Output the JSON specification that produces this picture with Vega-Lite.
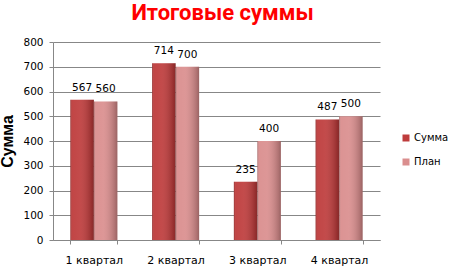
{
  "$schema": "https://vega.github.io/schema/vega-lite/v6.json",
  "width": 327,
  "height": 198,
  "autosize": {"type": "none"},
  "padding": {"left": 53, "top": 42, "right": 69, "bottom": 26},
  "background": "white",
  "config": {"view": {"stroke": null}},
  "title": {
    "text": "Итоговые суммы",
    "color": "#FF0000",
    "font": "Roboto",
    "fontSize": 22,
    "fontWeight": "bold",
    "anchor": "middle",
    "frame": "group",
    "baseline": "alphabetic",
    "offset": -5,
    "dx": 6
  },
  "data": {
    "values": [
      {"q": "1 квартал", "s": "Сумма", "v": 567},
      {"q": "1 квартал", "s": "План", "v": 560},
      {"q": "2 квартал", "s": "Сумма", "v": 714},
      {"q": "2 квартал", "s": "План", "v": 700},
      {"q": "3 квартал", "s": "Сумма", "v": 235},
      {"q": "3 квартал", "s": "План", "v": 400},
      {"q": "4 квартал", "s": "Сумма", "v": 487},
      {"q": "4 квартал", "s": "План", "v": 500}
    ]
  },
  "encoding": {
    "x": {
      "field": "q",
      "type": "nominal",
      "sort": null,
      "scale": {"paddingInner": 0.425, "paddingOuter": 0.2125},
      "axis": {
        "title": null,
        "labelAngle": 0,
        "tickBand": "extent",
        "domainColor": "#878787",
        "tickColor": "#878787",
        "tickSize": 4,
        "labelFont": "DejaVu Sans",
        "labelFontSize": 11,
        "labelColor": "black",
        "labelPadding": 10
      }
    },
    "xOffset": {
      "field": "s",
      "type": "nominal",
      "sort": ["Сумма", "План"],
      "scale": {"paddingInner": 0, "paddingOuter": 0}
    },
    "y": {
      "field": "v",
      "type": "quantitative",
      "scale": {"domain": [0, 800]},
      "axis": {
        "values": [0, 100, 200, 300, 400, 500, 600, 700, 800],
        "grid": true,
        "gridColor": "#878787",
        "domainColor": "#878787",
        "tickColor": "#878787",
        "tickSize": 4,
        "labelFont": "DejaVu Sans",
        "labelFontSize": 10.5,
        "labelColor": "black",
        "labelPadding": 6,
        "title": "Сумма",
        "titleFont": "Liberation Sans",
        "titleFontSize": 16,
        "titleFontWeight": "bold",
        "titleColor": "black",
        "titlePadding": 7
      }
    }
  },
  "layer": [
    {
      "mark": {"type": "bar"},
      "encoding": {
        "color": {
          "field": "s",
          "type": "nominal",
          "scale": {"domain": ["Сумма", "План"], "range": ["#BE3C3C", "#DA8E8E"]},
          "legend": {
            "orient": "none",
            "legendX": 348,
            "legendY": 91,
            "title": null,
            "symbolType": "square",
            "symbolSize": 49,
            "symbolStrokeWidth": 0,
            "labelFont": "DejaVu Sans",
            "labelFontSize": 10,
            "labelColor": "black",
            "rowPadding": 14,
            "labelOffset": 3
          }
        }
      }
    },
    {
      "mark": {
        "type": "bar",
        "fill": {
          "gradient": "linear",
          "x1": 0, "y1": 0, "x2": 1, "y2": 0,
          "stops": [
            {"offset": 0, "color": "rgba(0,0,0,0.25)"},
            {"offset": 0.08, "color": "rgba(255,255,255,0.05)"},
            {"offset": 0.4, "color": "rgba(255,255,255,0.08)"},
            {"offset": 0.9, "color": "rgba(0,0,0,0.2)"},
            {"offset": 1, "color": "rgba(0,0,0,0.3)"}
          ]
        }
      },
      "encoding": {}
    },
    {
      "mark": {
        "type": "text",
        "baseline": "alphabetic",
        "dy": -9,
        "font": "DejaVu Sans",
        "fontSize": 10.5,
        "color": "black"
      },
      "encoding": {"text": {"field": "v", "type": "quantitative"}}
    }
  ]
}
